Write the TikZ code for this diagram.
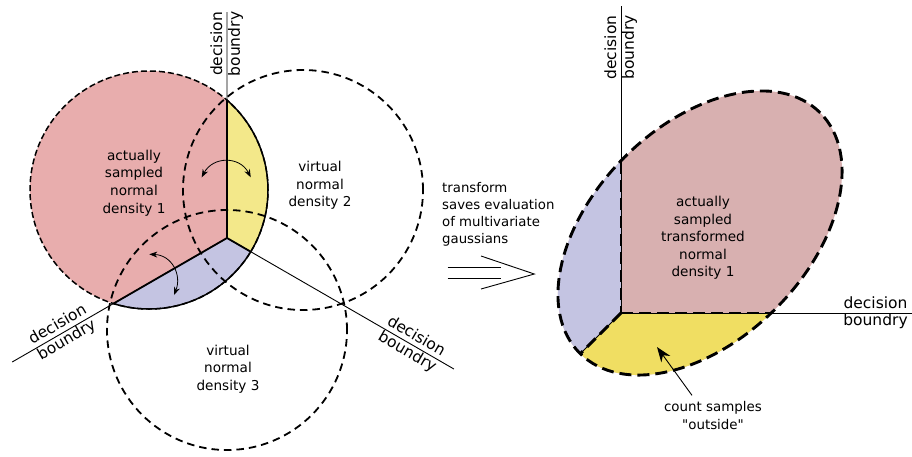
\documentclass[tikz,border=0pt]{standalone}
\usepackage{fontspec}
\setmainfont{DejaVu Sans}[Ligatures=TeXOff]
\usetikzlibrary{arrows.meta}
\definecolor{pinkL}{HTML}{E8ADAD}
\definecolor{yellowL}{HTML}{F3E88A}
\definecolor{blueL}{HTML}{C4C4E2}
\definecolor{pinkR}{HTML}{D8B0B0}
\definecolor{yellowR}{HTML}{F0DE62}
\definecolor{blueR}{HTML}{C4C4E2}
\tikzset{
  txt/.style={font=\fontsize{13.6}{17.6}\selectfont, align=center, inner sep=0pt},
  lblA/.style={font=\fontsize{15.5}{18}\selectfont, inner xsep=0pt, inner ysep=4.5pt, anchor=south},
  lblB/.style={font=\fontsize{15.5}{18}\selectfont, inner xsep=0pt, inner ysep=1pt, anchor=north},
  thinline/.style={line width=0.9pt},
  thickline/.style={line width=1.8pt},
  edgesolid/.style={line width=1.5pt},
  dashpink/.style={line width=1.5pt, dash pattern=on 6pt off 3pt},
  dashcirc/.style={line width=1.8pt, dash pattern=on 7.5pt off 5pt},
  dashR/.style={line width=2.9pt, dash pattern=on 12pt off 6pt},
  curvarrow/.style={line width=0.8pt, {Stealth[length=8pt,width=6pt]}-{Stealth[length=8pt,width=6pt]}},
}
\begin{document}
\begin{tikzpicture}[x=1pt,y=-1pt]
\useasboundingbox (0,0) rectangle (912,456);
% ---------------- left figure ----------------
\coordinate (J) at (227,238);
\coordinate (C1) at (149,190);
\coordinate (C2) at (303,190);
\coordinate (C3) at (227,330);
\coordinate (P12) at (227,100.1);
\coordinate (P13) at (113.4,303.6);
\coordinate (P23) at (250.7,251.7);
\coordinate (Ltop) at (227,12);
\coordinate (Lll) at (12.2,362);
\coordinate (Llr) at (453.9,369);
\fill[pinkL] (C1) circle[radius=119pt];
\begin{scope}
  \clip (C1) circle[radius=119pt];
  \fill[yellowL] (J) -- (227,0) -- (460,0) -- (460,372.5) -- cycle;
  \fill[blueL] (J) -- (0,369) -- (0,456) -- (460,456) -- (460,372.5) -- cycle;
\end{scope}
\draw[dashpink] (C1) circle[radius=119pt];
\begin{scope}
  \clip (J) -- (227,0) -- (460,0) -- (460,456) -- (0,456) -- (0,369) -- cycle;
  \draw[edgesolid] (C1) circle[radius=119pt];
\end{scope}
\draw[thinline] (Ltop) -- (J) -- (Lll);
\draw[thinline] (J) -- (Llr);
\draw[thickline] (P12) -- (J) -- (P13);
\draw[thickline] (J) -- (P23);
\draw[dashcirc] (C2) circle[radius=120pt];
\draw[dashcirc] (C3) circle[radius=120pt];
% curved arrows
\coordinate (a1) at (201.7,177.3);
\coordinate (a2) at (250.7,177.3);
\draw[curvarrow] (a1) .. controls (213,156) and (240,156) .. (a2);
\coordinate (b1) at (149.3,254.3);
\coordinate (b2) at (174,295);
\draw[curvarrow] (b1) .. controls (172,255) and (182,275) .. (b2);
% texts
\node[txt] (t1) at (134,183) {actually\\sampled\\normal\\density 1};
\node[txt] (t2) at (320,185.5) {virtual\\normal\\density 2};
\node[txt] (t3) at (228,369) {virtual\\normal\\density 3};
\node[lblA, rotate=90] (dTa) at (227,44) {decision};
\node[lblB, rotate=90] (dTb) at (227,44) {boundry};
\node[lblA, rotate=30] (dLa) at (62.5,333) {decision};
\node[lblB, rotate=30] (dLb) at (62.5,333) {boundry};
\node[lblA, rotate=-30] (dRa) at (411.5,344.5) {decision};
\node[lblB, rotate=-30] (dRb) at (411.5,344.5) {boundry};
% ---------------- middle ----------------
\node[txt, align=left, anchor=west, font=\fontsize{13.3}{16.9}\selectfont] (tr) at (442,214.5) {transform\\saves evaluation\\of multivariate\\gaussians};
\coordinate (m1) at (447.7,267.7);
\coordinate (m2) at (501,267.7);
\coordinate (m3) at (447.7,278.3);
\coordinate (m4) at (501,278.3);
\coordinate (h1) at (481,256);
\coordinate (h2) at (534.3,274);
\coordinate (h3) at (481,289);
\draw[thinline] (m1) -- (m2);
\draw[thinline] (m3) -- (m4);
\draw[thinline] (h1) -- (h2) -- (h3);
% ---------------- right figure ----------------
\coordinate (E) at (700,233);
\coordinate (K) at (621,313);
\coordinate (KV) at (621,162);
\coordinate (KH) at (771,313);
\coordinate (KD) at (580.3,353.7);
\fill[pinkR, rotate around={45:(E)}] (E) ellipse[x radius=170pt, y radius=107pt];
\begin{scope}
  \clip[rotate around={45:(E)}] (E) ellipse[x radius=170pt, y radius=107pt];
  \fill[blueR] (K) -- (621,0) -- (400,0) -- (400,534) -- cycle;
  \fill[yellowR] (K) -- (900,313) -- (900,600) -- (334,600) -- cycle;
\end{scope}
\coordinate (Vtop) at (621,6);
\coordinate (Hend) at (912,313);
\draw[thinline] (Vtop) -- (K) -- (Hend);
\draw[thinline] (K) -- (KD);
\draw[dashR] (KV) -- (K);
\draw[dashR] (K) -- (KH);
\draw[dashR] (K) -- (KD);
\draw[dashR, rotate around={45:(E)}] (E) ellipse[x radius=170pt, y radius=107pt];
\node[txt] (t4) at (703,238) {actually\\sampled\\transformed\\normal\\density 1};
\node[lblA, rotate=90] (dVa) at (621,47.5) {decision};
\node[lblB, rotate=90] (dVb) at (621,47.5) {boundry};
\node[lblA] (dHa) at (875.5,313) {decision};
\node[lblB] (dHb) at (875.5,313) {boundry};
\node[txt, font=\fontsize{13.4}{17.5}\selectfont] (cnt) at (713,415.5) {count samples\\"outside"};
\coordinate (ctip) at (657,347);
\draw[line width=0.9pt, -{Stealth[length=15pt,width=11pt]}] ([xshift=-21pt,yshift=6pt]cnt.north) -- (ctip);
\end{tikzpicture}
\end{document}
